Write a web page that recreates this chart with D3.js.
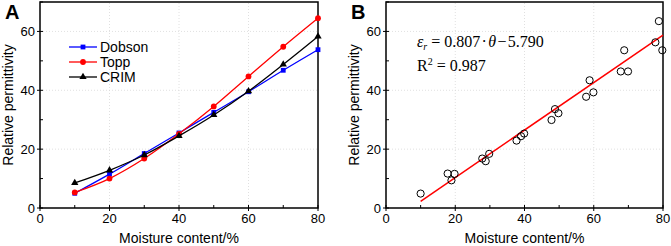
<!DOCTYPE html>
<html>
<head>
<meta charset="utf-8">
<script src="https://cdn.jsdelivr.net/npm/d3@7"></script>
<style>
  body { margin: 0; background: #fff; }
  svg { display: block; font-family: Arial, "Liberation Sans", sans-serif; }
</style>
</head>
<body>
<div id="chart"></div>
<script>
// Panel A: model curves
const moisture = [10, 20, 30, 40, 50, 60, 70, 80];
const dobson = [5.0, 11.5, 18.5, 25.5, 32.5, 39.5, 46.8, 53.8];
const topp = [5.3, 10.0, 16.8, 25.2, 34.5, 44.7, 54.8, 64.5];
const crim = [8.5, 12.8, 18.0, 24.5, 31.6, 39.7, 48.8, 58.3];

// Panel B: measured points and linear fit
const obsX = [10, 17.8, 18.9, 19.8, 27.8, 28.8, 29.8, 37.7, 39.0, 39.9,
              47.8, 48.8, 49.8, 57.8, 58.8, 59.9, 67.8, 68.8, 69.9, 77.8, 78.8, 79.8];
const obsY = [4.9, 11.7, 9.4, 11.6, 16.8, 15.9, 18.4, 22.9, 24.4, 25.3,
              29.9, 33.6, 32.2, 37.8, 43.4, 39.3, 46.4, 53.6, 46.4, 56.3, 63.5, 53.6];
const fitSlope = 0.807, fitIntercept = -5.790;
const fitRange = [10, 80];

const xTicks = [0, 20, 40, 60, 80];
const yTicks = [0, 20, 40, 60];

const series = [
  { name: "Dobson", values: dobson, color: "#0000ff", marker: "square" },
  { name: "Topp", values: topp, color: "#ff0000", marker: "circle" },
  { name: "CRIM", values: crim, color: "#000000", marker: "triangle" }
];

const W = 671, H = 246;
const svg = d3.select("#chart").append("svg").attr("width", W).attr("height", H);

function drawFrame(g, x, y, label) {
  const [x0, x1] = x.range();
  const [y0, y1] = y.range();

  // dotted grid
  g.append("g").selectAll("line").data([20, 40, 60]).join("line")
    .attr("x1", d => x(d)).attr("x2", d => x(d)).attr("y1", y0).attr("y2", y1)
    .attr("stroke", "#d8d8d8").attr("stroke-width", 0.8).attr("stroke-dasharray", "1,2");
  g.append("g").selectAll("line").data([20, 40, 60]).join("line")
    .attr("x1", x0).attr("x2", x1).attr("y1", d => y(d)).attr("y2", d => y(d))
    .attr("stroke", "#d8d8d8").attr("stroke-width", 0.8).attr("stroke-dasharray", "1,2");

  // box
  g.append("rect").attr("x", x0).attr("y", y1).attr("width", x1 - x0).attr("height", y0 - y1)
    .attr("fill", "none").attr("stroke", "#000").attr("stroke-width", 1.5);

  // x ticks
  g.append("g").selectAll("line").data(xTicks).join("line")
    .attr("x1", d => x(d)).attr("x2", d => x(d)).attr("y1", y0 + 3).attr("y2", y0 - 3)
    .attr("stroke", "#000").attr("stroke-width", 1);
  g.append("g").selectAll("line").data([10, 30, 50, 70]).join("line")
    .attr("x1", d => x(d)).attr("x2", d => x(d)).attr("y1", y0).attr("y2", y0 - 3)
    .attr("stroke", "#000").attr("stroke-width", 1);
  g.append("g").selectAll("text").data(xTicks).join("text")
    .attr("x", d => x(d)).attr("y", y0 + 15).attr("text-anchor", "middle")
    .attr("font-size", 13).text(d => d);

  // y ticks
  g.append("g").selectAll("line").data(yTicks).join("line")
    .attr("x1", x0 - 3).attr("x2", x0 + 3).attr("y1", d => y(d)).attr("y2", d => y(d))
    .attr("stroke", "#000").attr("stroke-width", 1);
  g.append("g").selectAll("line").data([10, 30, 50, 70]).join("line")
    .attr("x1", x0).attr("x2", x0 + 3).attr("y1", d => y(d)).attr("y2", d => y(d))
    .attr("stroke", "#000").attr("stroke-width", 1);
  g.append("g").selectAll("text").data(yTicks).join("text")
    .attr("x", x0 - 5).attr("y", d => y(d) + 4.5).attr("text-anchor", "end")
    .attr("font-size", 13).text(d => d);

  // axis titles
  g.append("text").attr("x", (x0 + x1) / 2).attr("y", 243).attr("text-anchor", "middle")
    .attr("font-size", 14).text("Moisture content/%");
  g.append("text").attr("transform", `translate(${x0 - 27},${(y0 + y1) / 2}) rotate(-90)`)
    .attr("text-anchor", "middle").attr("font-size", 14).text("Relative permittivity");

  // panel letter
  g.append("text").attr("x", x0 - 35).attr("y", 19).attr("font-size", 20)
    .attr("font-weight", "bold").text(label);
}

function marker(sel, type, color, size) {
  if (type === "square") {
    sel.append("rect").attr("x", -size).attr("y", -size)
      .attr("width", size * 2).attr("height", size * 2).attr("fill", color);
  } else if (type === "circle") {
    sel.append("circle").attr("r", size + 0.5).attr("fill", color);
  } else {
    sel.append("path").attr("d", d3.symbol(d3.symbolTriangle, size * size * 4)()).attr("fill", color);
  }
}

// ---- Panel A ----
const xA = d3.scaleLinear().domain([0, 80]).range([40, 318]);
const yA = d3.scaleLinear().domain([0, 70]).range([208, 2]);
const gA = svg.append("g");
drawFrame(gA, xA, yA, "A");

const line = d3.line().x((d, i) => xA(moisture[i])).y(d => yA(d)).curve(d3.curveMonotoneX);
series.forEach(s => {
  gA.append("path").datum(s.values).attr("d", line)
    .attr("fill", "none").attr("stroke", s.color).attr("stroke-width", 1.3);
  gA.append("g").selectAll("g").data(s.values).join("g")
    .attr("transform", (d, i) => `translate(${xA(moisture[i])},${yA(d)})`)
    .each(function () { marker(d3.select(this), s.marker, s.color, 2.4); });
});

// legend
const legend = gA.append("g");
series.forEach((s, i) => {
  const ly = 47 + i * 15;
  legend.append("line").attr("x1", 69).attr("x2", 97).attr("y1", ly).attr("y2", ly)
    .attr("stroke", s.color).attr("stroke-width", 1.3);
  marker(legend.append("g").attr("transform", `translate(83,${ly})`), s.marker, s.color, 2.4);
  legend.append("text").attr("x", 100).attr("y", ly + 5).attr("font-size", 14).text(s.name);
});

// ---- Panel B ----
const xB = d3.scaleLinear().domain([0, 80]).range([386, 663]);
const yB = d3.scaleLinear().domain([0, 70]).range([208, 2]);
const gB = svg.append("g");
drawFrame(gB, xB, yB, "B");

gB.append("line")
  .attr("x1", xB(fitRange[0])).attr("y1", yB(fitSlope * fitRange[0] + fitIntercept))
  .attr("x2", xB(fitRange[1])).attr("y2", yB(fitSlope * fitRange[1] + fitIntercept))
  .attr("stroke", "#ff0000").attr("stroke-width", 1.5);

gB.append("g").selectAll("circle").data(obsX).join("circle")
  .attr("cx", d => xB(d)).attr("cy", (d, i) => yB(obsY[i])).attr("r", 3.6)
  .attr("fill", "none").attr("stroke", "#000").attr("stroke-width", 1);

const eq = gB.append("text").attr("x", 417).attr("y", 47)
  .attr("font-family", "'Liberation Serif', 'Times New Roman', serif").attr("font-size", 16);
eq.append("tspan").attr("font-style", "italic").text("ε");
eq.append("tspan").attr("font-style", "italic").attr("font-size", 10).attr("dy", 3).text("r");
eq.append("tspan").attr("dy", -3).text(" = 0.807\u200A·\u200A");
eq.append("tspan").attr("font-style", "italic").text("θ");
eq.append("tspan").text("\u200A−\u200A5.790");

const r2 = gB.append("text").attr("x", 417).attr("y", 71)
  .attr("font-family", "'Liberation Serif', 'Times New Roman', serif").attr("font-size", 16);
r2.append("tspan").text("R");
r2.append("tspan").attr("font-size", 10).attr("dy", -6).text("2");
r2.append("tspan").attr("dy", 6).text(" = 0.987");
</script>
</body>
</html>
